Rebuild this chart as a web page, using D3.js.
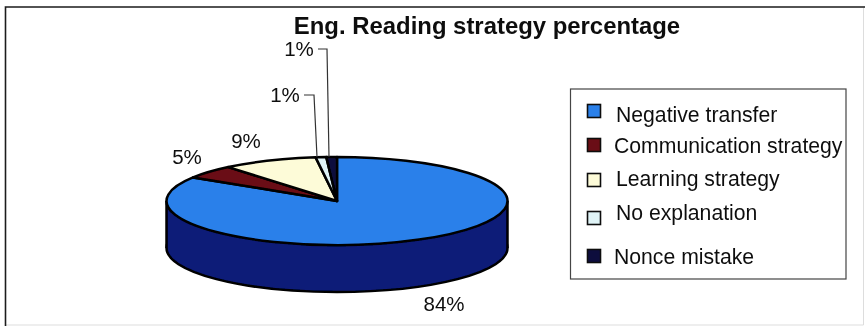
<!DOCTYPE html>
<html><head><meta charset="utf-8">
<script src="https://cdnjs.cloudflare.com/ajax/libs/d3/7.8.5/d3.min.js"></script>
<style>html,body{margin:0;background:#fff}svg{display:block}text{font-family:"Liberation Sans",Arial,sans-serif;fill:#111}</style>
</head><body><svg id="c" width="865" height="326"></svg>
<script>
const categories=["Negative transfer","Communication strategy","Learning strategy","No explanation","Nonce mistake"];
const values=[84,5,9,1,1];
const labels=["84%","5%","9%","1%","1%"];
const colors=["#2a80ea","#6a0a12","#fdfbd8","#dff3f6","#0b0b3e"];
const wallColor="#0a1a78";

const W=865,H=326,cx=337,cy=201,rx=170.5,ry=44,depth=47;
const svg=d3.select("#c");
const defs=svg.append("defs");
defs.append("filter").attr("id","soft").append("feGaussianBlur").attr("stdDeviation",0.45);
const root=svg.append("g").attr("filter","url(#soft)");

const line=d3.line();
root.append("path").attr("d",line([[5.5,325],[863.5,325],[863.5,7.5]]))
  .attr("fill","none").attr("stroke","#ddd").attr("stroke-width",1);
root.append("path").attr("d",line([[5.5,326],[5.5,7],[865,7]]))
  .attr("fill","none").attr("stroke","#1a1a1a").attr("stroke-width",1.6);

root.append("text").attr("x",487).attr("y",33.5).attr("text-anchor","middle")
  .attr("font-size",23.9).attr("font-weight","bold").text("Eng. Reading strategy percentage");

const pie=d3.pie().sort(null).value(d=>d);
const arcs=pie(values);
const arc=d3.arc().innerRadius(0).outerRadius(rx);
const squash=`scale(1,${ry/rx})`;

const side=root.append("g").attr("transform",`translate(${cx},${cy+depth}) ${squash}`);
side.append("path").attr("d",d3.arc().innerRadius(0).outerRadius(rx)({startAngle:0,endAngle:2*Math.PI}))
  .attr("fill",wallColor).attr("stroke","#000").attr("stroke-width",2.5).attr("vector-effect","non-scaling-stroke");
root.append("rect").attr("x",cx-rx).attr("y",cy).attr("width",2*rx).attr("height",depth).attr("fill",wallColor);
root.selectAll("line.edge").data([cx-rx,cx+rx]).join("line").attr("class","edge")
  .attr("x1",d=>d).attr("x2",d=>d).attr("y1",cy).attr("y2",cy+depth)
  .attr("stroke","#000").attr("stroke-width",2.5);

root.append("g").attr("transform",`translate(${cx},${cy}) ${squash}`)
  .selectAll("path").data(arcs).join("path").attr("d",arc)
  .attr("fill",(d,i)=>colors[i]).attr("stroke","#000").attr("stroke-width",2.5)
  .attr("stroke-linejoin","round").attr("vector-effect","non-scaling-stroke");

// leader lines and labels
const leaders=[[[317,157],[314,95],[304,95]],[[329,157],[327,49],[318,49]]];
root.selectAll("path.leader").data(leaders).join("path").attr("class","leader")
  .attr("d",line).attr("fill","none").attr("stroke","#333").attr("stroke-width",1.2);
const labelPos=[[444,311],[187,164],[246,148],[285,101.5],[299,56]];
root.selectAll("text.pct").data(labels).join("text").attr("class","pct")
  .attr("x",(d,i)=>labelPos[i][0]).attr("y",(d,i)=>labelPos[i][1])
  .attr("text-anchor","middle").attr("font-size",20.5).text(d=>d);

// legend
root.append("rect").attr("x",570.5).attr("y",89).attr("width",275.5).attr("height",190)
  .attr("fill","#fff").attr("stroke","#444").attr("stroke-width",1.2);
const legBase=[122,152.5,186,220,263.5], legSwatch=[111,145,180,218,256], legX=[616,614,616,616,614];
const leg=root.selectAll("g.leg").data(categories).join("g").attr("class","leg");
leg.append("rect").attr("x",587.5).attr("y",(d,i)=>legSwatch[i]-6.5).attr("width",13).attr("height",13)
  .attr("fill",(d,i)=>colors[i]).attr("stroke","#111").attr("stroke-width",1.6);
leg.append("text").attr("x",(d,i)=>legX[i]).attr("y",(d,i)=>legBase[i]).attr("font-size",21.2).text(d=>d);
</script></body></html>
